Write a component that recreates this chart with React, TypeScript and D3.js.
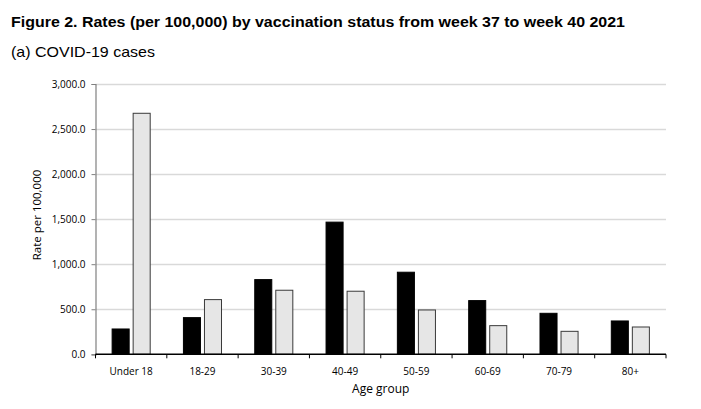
import React, { useEffect, useRef } from "react";
import * as d3 from "d3";

const ageGroups = ["Under 18", "18-29", "30-39", "40-49", "50-59", "60-69", "70-79", "80+"];
const vaccinated = [281, 407, 829, 1467, 911, 596, 455, 370];
const unvaccinated = [2675, 607, 711, 700, 492, 318, 255, 303];
const yTicks = [0, 500, 1000, 1500, 2000, 2500, 3000];

const seriesNames = ["vaccinated", "unvaccinated"];
const fills = ["#000000", "#e6e6e6"];
const strokes = ["#000000", "#3a3a3a"];

const width = 701;
const height = 409;

export default function App() {
  const ref = useRef<SVGSVGElement>(null);

  useEffect(() => {
    document.body.style.margin = "0";
    const svg = d3.select(ref.current);
    svg.selectAll("*").remove();

    const left = 95.5;
    const right = 666;
    const top = 84;
    const bottom = 354.3;

    // titles
    svg
      .append("text")
      .attr("x", 11)
      .attr("y", 27)
      .attr("font-family", "Liberation Sans, Arial, sans-serif")
      .attr("font-weight", "bold")
      .attr("font-size", 14.5)
      .attr("textLength", 614)
      .attr("lengthAdjust", "spacingAndGlyphs")
      .attr("fill", "#000")
      .text("Figure 2. Rates (per 100,000) by vaccination status from week 37 to week 40 2021");

    svg
      .append("text")
      .attr("x", 11)
      .attr("y", 57)
      .attr("font-family", "Liberation Sans, Arial, sans-serif")
      .attr("font-size", 14.5)
      .attr("textLength", 144)
      .attr("lengthAdjust", "spacingAndGlyphs")
      .attr("fill", "#000")
      .text("(a) COVID-19 cases");

    const y = d3.scaleLinear().domain([0, 3000]).range([bottom, top]);
    const x = d3.scaleBand().domain(ageGroups).range([left, right]).padding(0);
    const sub = d3
      .scaleBand()
      .domain(seriesNames)
      .range([0, x.bandwidth()])
      .paddingInner(0.19)
      .paddingOuter(0.79);

    // gridlines
    svg
      .append("g")
      .selectAll("line")
      .data(yTicks.slice(1))
      .join("line")
      .attr("x1", left)
      .attr("x2", right)
      .attr("y1", (d) => Math.round(y(d)) + 0.5)
      .attr("y2", (d) => Math.round(y(d)) + 0.5)
      .attr("stroke", "#d9d9d9")
      .attr("stroke-width", 1.5);

    // bars
    const data = ageGroups.map((g, i) => ({ group: g, values: [vaccinated[i], unvaccinated[i]] }));
    svg
      .append("g")
      .selectAll("g")
      .data(data)
      .join("g")
      .attr("transform", (d) => `translate(${x(d.group)},0)`)
      .selectAll("rect")
      .data((d) => d.values.map((v, i) => ({ key: seriesNames[i], v, i })))
      .join("rect")
      .attr("x", (d) => sub(d.key)!)
      .attr("width", sub.bandwidth())
      .attr("y", (d) => y(d.v))
      .attr("height", (d) => bottom - y(d.v))
      .attr("fill", (d) => fills[d.i])
      .attr("stroke", (d) => strokes[d.i])
      .attr("stroke-width", 1);

    // y axis
    const yAxis = svg
      .append("g")
      .attr("transform", `translate(${left},0)`)
      .call(
        d3
          .axisLeft(y)
          .tickValues(yTicks)
          .tickSize(4)
          .tickPadding(6)
          .tickFormat((d) => d3.format(",.1f")(d as number))
      );
    yAxis.select(".domain").attr("stroke", "#808080").attr("stroke-width", 1.2);
    yAxis.selectAll(".tick line").attr("stroke", "#808080");
    yAxis
      .selectAll("text")
      .attr("font-family", "Open Sans, sans-serif")
      .attr("font-size", 10)
      .attr("fill", "#000");

    // x axis
    const xAxis = svg.append("g").attr("transform", `translate(0,${bottom})`);
    xAxis
      .append("line")
      .attr("x1", left)
      .attr("x2", right)
      .attr("stroke", "#000")
      .attr("stroke-width", 1.5);
    xAxis
      .selectAll("line.tk")
      .data(d3.range(ageGroups.length + 1))
      .join("line")
      .attr("class", "tk")
      .attr("x1", (i) => left + i * x.step())
      .attr("x2", (i) => left + i * x.step())
      .attr("y1", 0)
      .attr("y2", 4)
      .attr("stroke", "#000");
    xAxis
      .selectAll("text")
      .data(ageGroups)
      .join("text")
      .attr("x", (d) => x(d)! + x.bandwidth() / 2)
      .attr("y", 21)
      .attr("text-anchor", "middle")
      .attr("font-family", "Open Sans, sans-serif")
      .attr("font-size", 10)
      .attr("fill", "#000")
      .text((d) => d);

    // axis titles
    svg
      .append("text")
      .attr("transform", `translate(40.5,215) rotate(-90)`)
      .attr("text-anchor", "middle")
      .attr("font-family", "Open Sans, sans-serif")
      .attr("font-size", 11.5)
      .attr("fill", "#000")
      .text("Rate per 100,000");

    svg
      .append("text")
      .attr("x", (left + right) / 2)
      .attr("y", 393)
      .attr("text-anchor", "middle")
      .attr("font-family", "Open Sans, sans-serif")
      .attr("font-size", 12)
      .attr("fill", "#000")
      .text("Age group");
  }, []);

  return <svg ref={ref} width={width} height={height} style={{ display: "block", background: "#fff" }} />;
}
